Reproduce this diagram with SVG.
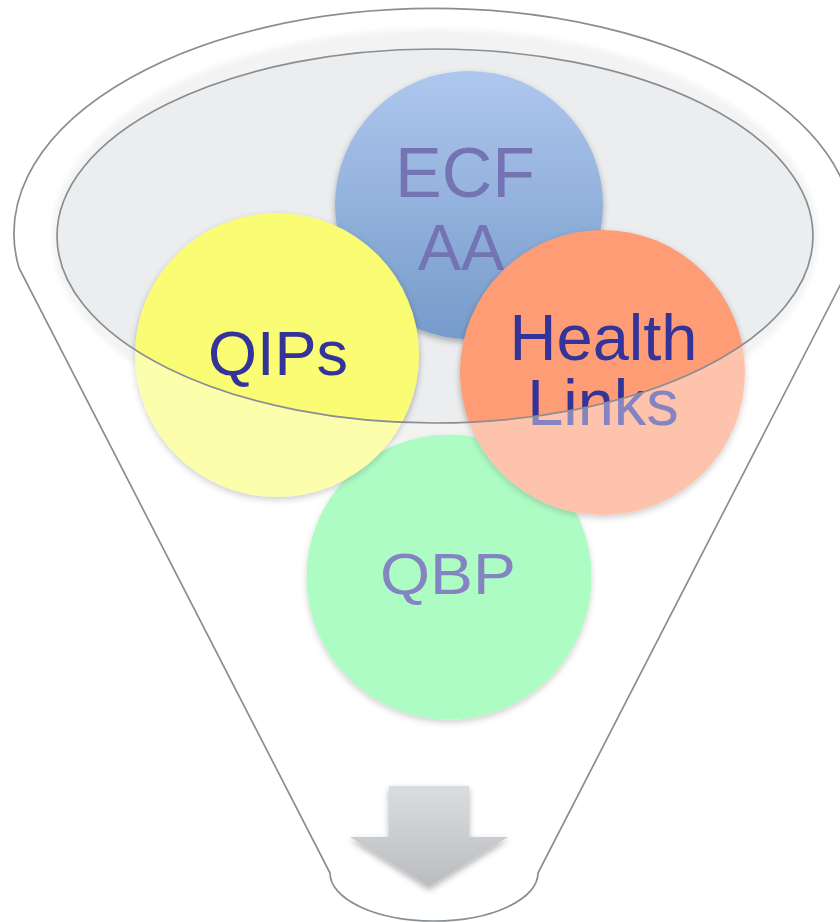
<svg xmlns="http://www.w3.org/2000/svg" width="840" height="922" viewBox="0 0 840 922">
  <style>
    .label { font-family: "Liberation Sans", Arial, sans-serif; text-anchor: middle; }
    .dark { fill: #333399; }
    .rim { fill: none; stroke: #898E93; stroke-width: 1.7; }
  </style>
  <defs>
    <filter id="soft" x="-10%" y="-10%" width="120%" height="130%">
      <feDropShadow dx="0" dy="3" stdDeviation="3" flood-color="#000" flood-opacity="0.3"/>
    </filter>
    <filter id="haze" x="-5%" y="-10%" width="110%" height="120%">
      <feGaussianBlur stdDeviation="2.5"/>
    </filter>
    <linearGradient id="blueFill" x1="0" y1="0" x2="0" y2="1">
      <stop offset="0" stop-color="#AEC7EE"/>
      <stop offset="1" stop-color="#769BCA"/>
    </linearGradient>
    <linearGradient id="arrowFill" x1="0" y1="0" x2="0" y2="1">
      <stop offset="0" stop-color="#DADDE0"/>
      <stop offset="1" stop-color="#BABCBF"/>
    </linearGradient>
  </defs>

  <!-- funnel body -->
  <g id="funnel">
    <path d="M19,268 A420,225 0 1 1 849,268 L538,873 A104,48 0 0 1 330,873 Z" fill="#FFFFFF"/>
    <ellipse cx="435" cy="236" rx="383" ry="207" fill="#EBECED" filter="url(#haze)"/>
    <ellipse cx="435" cy="236" rx="378" ry="187" fill="#ECEDEF"/>
  </g>

  <!-- nodes -->
  <g id="node-ecf-aa">
    <circle cx="469" cy="205" r="134" fill="url(#blueFill)" filter="url(#soft)"/>
    <text class="label" fill="#7474B4"><tspan x="465" y="197" font-size="70">ECF</tspan><tspan x="461" y="270" font-size="65">AA</tspan></text>
  </g>

  <g id="node-qbp">
    <circle cx="449" cy="577" r="142.5" fill="#76FB9D" filter="url(#soft)"/>
    <text class="label dark" transform="translate(448,593.5) scale(1.13,1)" font-size="57">QBP</text>
  </g>

  <g id="node-qips">
    <circle cx="277" cy="355" r="142" fill="#FAFD73" filter="url(#soft)"/>
    <text class="label dark" x="278" y="374.5" font-size="63">QIPs</text>
  </g>

  <g id="node-health-links">
    <circle cx="602.5" cy="372.5" r="142.5" fill="#FE9C74" filter="url(#soft)"/>
    <text class="label dark" font-size="65"><tspan x="603.5" y="360">Health</tspan><tspan x="603" y="425">Links</tspan></text>
  </g>

  <!-- translucent funnel wall over everything below the opening -->
  <path id="funnel-wall" fill="#FFFFFF" fill-opacity="0.4" fill-rule="evenodd"
        d="M0,0 H840 V922 H0 Z M57,236 A378,187 0 1 0 813,236 A378,187 0 1 0 57,236 Z"/>

  <g id="funnel-outline">
    <ellipse class="rim" cx="435" cy="236" rx="378" ry="187"/>
    <path class="rim" d="M19,268 A420,225 0 1 1 849,268 L538,873 A104,48 0 0 1 330,873 Z"/>
  </g>

  <!-- output arrow -->
  <g id="connectors">
    <path id="output-arrow" d="M389,786 H469 V837 H508 L429,887 L350,837 H389 Z" fill="url(#arrowFill)" filter="url(#soft)"/>
  </g>
</svg>
